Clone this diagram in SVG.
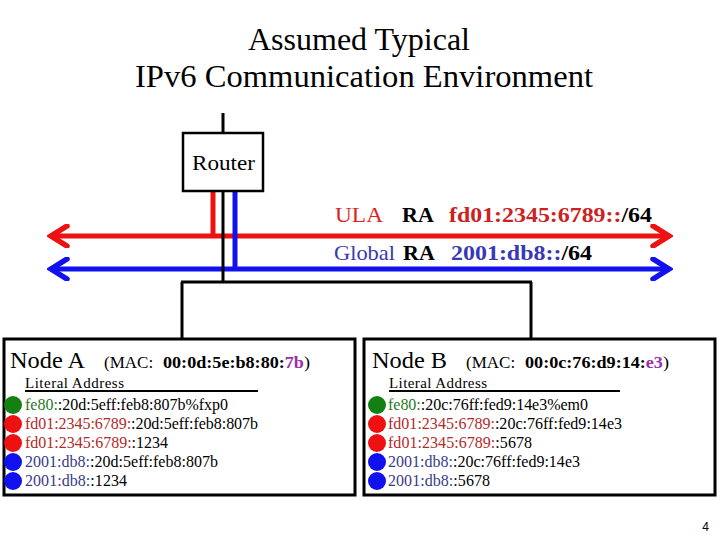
<svg xmlns="http://www.w3.org/2000/svg" width="720" height="540" viewBox="0 0 720 540">
<style>
text{font-family:"Liberation Serif","Times New Roman",serif;fill:#000}
.title{font-size:31px}
.b{font-weight:bold}
.addr{font-size:16px}
.hdr{font-size:24px}
.mac{font-size:17px}
.lit{font-size:15px}
.g{fill:#1f7a1f}
.r{fill:#b22a2a}
.bl{fill:#3a3a88}
.pu{fill:#9a2fa8}
text.ula{fill:#dd2222}
text.glo{fill:#3838b0}
.box{fill:#fff;stroke:#000;stroke-width:3}
.blk{stroke:#000;stroke-width:3;fill:none}
</style>
<defs>
<marker id="arR" viewBox="0 0 24 24" markerWidth="24" markerHeight="24" refX="21" refY="12" orient="auto-start-reverse" markerUnits="userSpaceOnUse">
<polyline points="4,2 20,12 4,22" fill="none" stroke="#ee1111" stroke-width="5.5" stroke-linecap="round" stroke-linejoin="miter"/>
</marker>
<marker id="arB" viewBox="0 0 24 24" markerWidth="24" markerHeight="24" refX="21" refY="12" orient="auto-start-reverse" markerUnits="userSpaceOnUse">
<polyline points="4,2 20,12 4,22" fill="none" stroke="#1111ee" stroke-width="5.5" stroke-linecap="round" stroke-linejoin="miter"/>
</marker>
</defs>
<rect width="720" height="540" fill="#fff"/>
<g id="title">
<text class="title" x="248" y="50" textLength="222" lengthAdjust="spacingAndGlyphs">Assumed Typical</text>
<text class="title" x="135" y="87" textLength="458" lengthAdjust="spacingAndGlyphs">IPv6 Communication Environment</text>
</g>
<g id="connectors">
<line x1="50" y1="236" x2="670" y2="236" stroke="#ee1111" stroke-width="5" marker-start="url(#arR)" marker-end="url(#arR)"/>
<line x1="50" y1="269" x2="670" y2="269" stroke="#1111ee" stroke-width="5" marker-start="url(#arB)" marker-end="url(#arB)"/>
<line x1="213" y1="190" x2="213" y2="236" stroke="#ee1111" stroke-width="5"/>
<line x1="235" y1="190" x2="235" y2="269" stroke="#1111ee" stroke-width="5"/>
<line class="blk" x1="223" y1="113" x2="223" y2="282"/>
<line class="blk" x1="181" y1="282" x2="532" y2="282"/>
<line class="blk" x1="182" y1="282" x2="182" y2="339"/>
<line class="blk" x1="531" y1="282" x2="531" y2="339"/>
</g>
<g id="router">
<rect x="183" y="133" width="80" height="58" fill="#fff" stroke="#000" stroke-width="2.5"/>
<text x="192" y="170" font-size="22" textLength="63" lengthAdjust="spacingAndGlyphs">Router</text>
</g>
<g id="ula-label">
<text class="ula" x="335" y="222" font-size="22" textLength="48" lengthAdjust="spacingAndGlyphs">ULA</text>
<text x="402" y="222" font-size="22" class="b">RA</text>
<text x="449" y="222" font-size="22" class="b" textLength="203" lengthAdjust="spacingAndGlyphs"><tspan fill="#cc2222">fd01:2345:6789::</tspan>/64</text>
</g>
<g id="global-label">
<text class="glo" x="334" y="260" font-size="22" textLength="61" lengthAdjust="spacingAndGlyphs">Global</text>
<text x="403" y="260" font-size="22" class="b">RA</text>
<text x="451" y="260" font-size="22" class="b" textLength="141" lengthAdjust="spacingAndGlyphs"><tspan fill="#3838b8">2001:db8::</tspan>/64</text>
</g>
<g id="nodeA">
<rect class="box" x="4" y="339" width="351" height="156"/>
<text class="hdr" x="10" y="368" textLength="75" lengthAdjust="spacingAndGlyphs">Node A</text>
<text class="mac" x="104" y="368">(MAC:</text>
<text class="mac b" x="163" y="368" textLength="147" lengthAdjust="spacingAndGlyphs">00:0d:5e:b8:80:<tspan class="pu">7b</tspan><tspan font-weight="normal">)</tspan></text>
<text class="lit" x="25" y="388" textLength="99" lengthAdjust="spacing">Literal Address</text>
<line x1="25" y1="391" x2="258" y2="391" stroke="#000" stroke-width="2"/>
<circle cx="13" cy="405" r="9" fill="#138013"/>
<circle cx="13" cy="424" r="9" fill="#ee1111"/>
<circle cx="13" cy="443" r="9" fill="#ee1111"/>
<circle cx="13" cy="462" r="9" fill="#1111ee"/>
<circle cx="13" cy="481" r="9" fill="#1111ee"/>
<text class="addr" x="25" y="410" textLength="203" lengthAdjust="spacing"><tspan class="g">fe80:</tspan>:20d:5eff:feb8:807b%fxp0</text>
<text class="addr" x="25" y="429" textLength="233" lengthAdjust="spacing"><tspan class="r">fd01:2345:6789:</tspan>:20d:5eff:feb8:807b</text>
<text class="addr" x="25" y="448" textLength="143" lengthAdjust="spacing"><tspan class="r">fd01:2345:6789:</tspan>:1234</text>
<text class="addr" x="25" y="467" textLength="193" lengthAdjust="spacing"><tspan class="bl">2001:db8:</tspan>:20d:5eff:feb8:807b</text>
<text class="addr" x="25" y="486" textLength="102" lengthAdjust="spacing"><tspan class="bl">2001:db8:</tspan>:1234</text>
</g>
<g id="nodeB">
<rect class="box" x="364" y="339" width="351" height="156"/>
<text class="hdr" x="372" y="368" textLength="75" lengthAdjust="spacingAndGlyphs">Node B</text>
<text class="mac" x="466" y="368">(MAC:</text>
<text class="mac b" x="525" y="368" textLength="144" lengthAdjust="spacingAndGlyphs">00:0c:76:d9:14:<tspan class="pu">e3</tspan><tspan font-weight="normal">)</tspan></text>
<text class="lit" x="389" y="388" textLength="98" lengthAdjust="spacing">Literal Address</text>
<line x1="389" y1="391" x2="620" y2="391" stroke="#000" stroke-width="2"/>
<circle cx="377" cy="405" r="9" fill="#138013"/>
<circle cx="377" cy="424" r="9" fill="#ee1111"/>
<circle cx="377" cy="443" r="9" fill="#ee1111"/>
<circle cx="377" cy="462" r="9" fill="#1111ee"/>
<circle cx="377" cy="481" r="9" fill="#1111ee"/>
<text class="addr" x="388" y="410" textLength="200" lengthAdjust="spacing"><tspan class="g">fe80:</tspan>:20c:76ff:fed9:14e3%em0</text>
<text class="addr" x="388" y="429" textLength="234" lengthAdjust="spacing"><tspan class="r">fd01:2345:6789:</tspan>:20c:76ff:fed9:14e3</text>
<text class="addr" x="388" y="448" textLength="144" lengthAdjust="spacing"><tspan class="r">fd01:2345:6789:</tspan>:5678</text>
<text class="addr" x="388" y="467" textLength="192" lengthAdjust="spacing"><tspan class="bl">2001:db8:</tspan>:20c:76ff:fed9:14e3</text>
<text class="addr" x="388" y="486" textLength="102" lengthAdjust="spacing"><tspan class="bl">2001:db8:</tspan>:5678</text>
</g>
<g id="page-number">
<text x="709" y="531" font-size="12" text-anchor="end" style="font-family:'Liberation Sans',Arial,sans-serif">4</text>
</g>
</svg>
